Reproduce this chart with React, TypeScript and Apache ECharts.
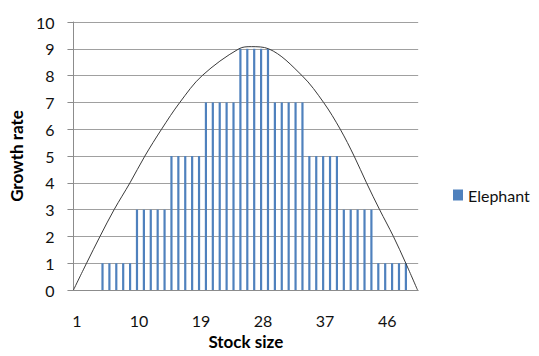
import React, { useEffect, useRef } from "react";
import * as echarts from "echarts";

const stockSizes = [
  "1", "2", "3", "4", "5", "6", "7", "8", "9", "10",
  "11", "12", "13", "14", "15", "16", "17", "18", "19", "20",
  "21", "22", "23", "24", "25", "26", "27", "28", "29", "30",
  "31", "32", "33", "34", "35", "36", "37", "38", "39", "40",
  "41", "42", "43", "44", "45", "46", "47", "48", "49", "50",
];

const elephantGrowth = [
  null, null, null, null, 1, 1, 1, 1, 1, 3,
  3, 3, 3, 3, 5, 5, 5, 5, 5, 7,
  7, 7, 7, 7, 9, 9, 9, 9, 9, 7,
  7, 7, 7, 7, 5, 5, 5, 5, 5, 3,
  3, 3, 3, 3, 1, 1, 1, 1, 1, null,
];

// curve: [stock size, growth rate]
const curveX = [0.5, 2.4, 4.35, 6.4, 8.7, 10.86, 13.28, 15.93, 19.17, 24.5, 26.3, 28.8, 33.65, 36.77, 39.19, 41.2, 43.0, 44.9, 46.9, 48.7, 50.4];
const curveY = [0, 1, 2, 3, 4, 5, 6, 7, 8, 9, 9.08, 9, 8, 7, 6, 5, 4, 3, 2, 1, 0];

const yTicks = [0, 10, 1];

const FONT = "Lato";

export default function App() {
  const ref = useRef<HTMLDivElement>(null);
  useEffect(() => {
    if (!ref.current) return;
    const chart = echarts.init(ref.current, null, { renderer: "svg" });
    chart.setOption({
      animation: false,
      backgroundColor: "#ffffff",
      textStyle: { fontFamily: FONT },
      legend: {
        data: ["Elephant"],
        left: 453,
        top: 187,
        padding: 0,
        orient: "vertical",
        itemWidth: 10,
        itemHeight: 11,
        icon: "rect",
        textStyle: { fontFamily: FONT, fontSize: 16, color: "#111" },
      },
      grid: { left: 72.7, right: 120.8, top: 22, bottom: 66, containLabel: false },
      xAxis: [
        {
          type: "category",
          data: stockSizes,
          boundaryGap: true,
          name: "Stock size",
          nameLocation: "middle",
          nameGap: 41,
          nameTextStyle: { fontFamily: FONT, fontSize: 17, fontWeight: "bold", color: "#000" },
          axisLine: { lineStyle: { color: "#8c8c8c", width: 1 } },
          axisTick: { show: false },
          axisLabel: { interval: 8, margin: 22, fontFamily: FONT, fontSize: 16, color: "#111" },
          splitLine: { show: false },
        },
        {
          type: "value",
          min: 0.5,
          max: 50.5,
          show: false,
        },
      ],
      yAxis: {
        type: "value",
        min: yTicks[0],
        max: yTicks[1],
        interval: yTicks[2],
        name: "Growth rate",
        nameLocation: "middle",
        nameRotate: 90,
        nameGap: 44,
        nameTextStyle: { fontFamily: FONT, fontSize: 17, fontWeight: "bold", color: "#000" },
        axisLine: { show: true, lineStyle: { color: "#8c8c8c", width: 1 } },
        axisTick: { show: true, length: 6, lineStyle: { color: "#8c8c8c" } },
        axisLabel: { margin: 19, fontFamily: FONT, fontSize: 16, color: "#111" },
        splitLine: { show: true, lineStyle: { color: "#a0a0a0", width: 1 } },
      },
      series: [
        {
          name: "Elephant",
          type: "bar",
          data: elephantGrowth,
          barWidth: 2.2,
          barGap: "80%",
          itemStyle: { color: "#4F81BD" },
        },
        {
          name: "pad",
          type: "bar",
          data: [],
          barWidth: 2.2,
          silent: true,
          itemStyle: { color: "transparent" },
        },
        {
          name: "curve",
          type: "line",
          xAxisIndex: 1,
          data: curveX.map((x, i) => [x, curveY[i]]),
          smooth: 0.35,
          showSymbol: false,
          silent: true,
          lineStyle: { color: "#3a3a3a", width: 1 },
          z: 5,
        },
      ],
    });
    return () => chart.dispose();
  }, []);
  return (
    <div
      ref={ref}
      style={{ position: "fixed", left: 0, top: 0, width: 539, height: 356 }}
    />
  );
}
